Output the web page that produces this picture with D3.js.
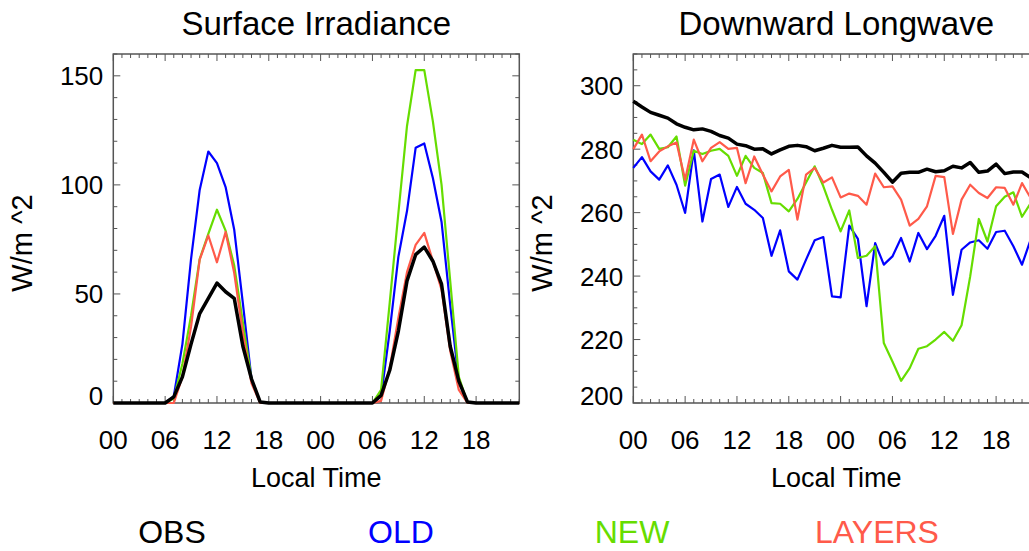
<!DOCTYPE html>
<html>
<head>
<meta charset="utf-8">
<script src="https://cdn.jsdelivr.net/npm/d3@7"></script>
<style>
  body { margin: 0; background: #fff; }
  svg { display: block; }
  text { font-family: "Liberation Sans", Arial, Helvetica, sans-serif; fill: #000; }
</style>
</head>
<body>
<svg class="plot" width="1029" height="551"></svg>
<script>
// hourly index over two days
var hours = [0,1,2,3,4,5,6,7,8,9,10,11,12,13,14,15,16,17,18,19,20,21,22,23,
             24,25,26,27,28,29,30,31,32,33,34,35,36,37,38,39,40,41,42,43,44,45,46,47]

// Surface Irradiance (W/m^2)
var obsSW = [0,0,0,0,0,0,0,2.8,12,27,41,48,55,51,48,26,11,0.5,
             0,0,0,0,0,0,0,0,0,0,0,0,0,3.5,15,33,56,68,71.5,65,54.5,26,10,0.5,0,0,0,0,0,0]
var oldSW = [0,0,0,0,0,0,0,3,27,66,97.7,115.3,110,99,79.4,45.7,11,0,
             0,0,0,0,0,0,0,0,0,0,0,0,0,3,33,67,88,117,119,103,83,45,10,0,0,0,0,0,0,0]
var newSW = [0,0,0,0,0,0,0,2,18,40,66,77.5,88.6,79,63,37,11,0,
             0,0,0,0,0,0,0,0,0,0,0,0,0,6,46,87,127,152.6,152.6,129,100,56,12,0,0,0,0,0,0,0]
var layersSW = [0,0,0,0,0,0,0,0,12,35,65.7,76.8,64.5,78.4,59.6,32,9,0,
             0,0,0,0,0,0,0,0,0,0,0,0,0,1,16,39,60,72.5,78,65,52,24,6,0,0,0,0,0,0,0]

// Downward Longwave (W/m^2)
var obsLW = [295.1,293.3,291.6,290.7,289.8,288.0,286.9,286.1,286.4,285.6,284.3,283.5,281.6,281.1,280.0,280.1,
             278.5,279.8,280.9,281.2,280.8,279.5,280.3,281.2,280.6,280.6,280.7,277.9,275.6,272.7,269.6,272.4,
             272.7,272.7,273.7,272.9,273.2,274.6,274.1,275.8,272.7,273.1,275.3,272.3,272.8,272.8,271,270]
var oldLW = [274.1,277.5,273.0,270.4,274.9,268.8,259.9,279.6,257.2,270.6,272.0,261.8,268.1,262.8,260.9,258.3,
             246.4,254.4,241.5,238.9,245.2,251.3,252.3,233.6,233.3,255.9,251.7,230.5,250.4,243.6,246.2,252.0,
             244.6,253.6,248.5,252.7,259.0,234.1,248.3,250.6,251.3,248.6,253.9,254.3,249.4,243.6,251.5,255]
var newLW = [283.0,281.6,284.6,280.1,280.6,284.0,268.5,279.5,278.5,279.5,280.1,277.9,271.6,277.9,274.1,272.5,
             263.0,262.8,260.4,264.3,269.5,274.6,268.3,260.9,254.1,260.7,245.7,246.4,249.4,218.9,213.1,207.0,
             211.0,217.1,217.9,220.0,222.4,219.6,224.5,239.9,258.0,250.9,262.0,265.0,266.4,258.7,263,265]
var layersLW = [280.0,284.6,276.2,279.3,280.9,282.1,270.4,283.0,276.2,280.4,282.2,280.1,280.4,269.3,277.7,272.0,
             266.7,271.4,273.5,257.8,272.0,274.1,269.5,271.1,264.8,266.0,265.3,262.5,272.3,268.0,268.3,264.1,
             255.9,258.0,262.0,271.6,271.2,253.3,264.1,268.8,266.2,264.6,268.0,267.8,262.5,269.3,264.6,266]

var seriesNames = ["OBS", "OLD", "NEW", "LAYERS"]
var seriesColors = ["#000000", "#0000ff", "#66dd00", "#ff5a4a"]
var seriesWidths = [3.5, 2.2, 2.2, 2.2]

var svg = d3.select("svg.plot")
var frameColor = "#555"

function drawPanel(opts) {
  var x = d3.scaleLinear().domain([0, 47]).range([opts.left, opts.left + 406])
  var y = d3.scaleLinear().domain(opts.yDomain).range([403, 54])
  var g = svg.append("g")

  // frame
  g.append("rect")
    .attr("x", x(0)).attr("y", y(opts.yDomain[1]))
    .attr("width", x(47) - x(0)).attr("height", y(opts.yDomain[0]) - y(opts.yDomain[1]))
    .attr("fill", "none").attr("stroke", frameColor).attr("stroke-width", 1.5)

  // x ticks (bottom + top), minor every hour, major every 6
  hours.forEach(h => {
    var len = (h % 6 == 0) ? 7 : 4
    g.append("line").attr("x1", x(h)).attr("x2", x(h)).attr("y1", y.range()[0]).attr("y2", y.range()[0] - len)
      .attr("stroke", frameColor).attr("stroke-width", 1)
    g.append("line").attr("x1", x(h)).attr("x2", x(h)).attr("y1", y.range()[1]).attr("y2", y.range()[1] + len)
      .attr("stroke", frameColor).attr("stroke-width", 1)
  })
  // x tick labels
  hours.filter(h => h % 6 == 0).forEach(h => {
    g.append("text")
      .attr("x", x(h)).attr("y", 449)
      .attr("text-anchor", "middle").attr("font-size", 26)
      .text(String(h % 24).padStart(2, "0"))
  })

  // y ticks
  opts.yMinor.forEach(v => {
    var len = opts.yMajor.includes(v) ? 7 : 4
    g.append("line").attr("x1", x(0)).attr("x2", x(0) + len).attr("y1", y(v)).attr("y2", y(v))
      .attr("stroke", frameColor).attr("stroke-width", 1)
    g.append("line").attr("x1", x(47)).attr("x2", x(47) - len).attr("y1", y(v)).attr("y2", y(v))
      .attr("stroke", frameColor).attr("stroke-width", 1)
  })
  opts.yMajor.forEach(v => {
    g.append("text")
      .attr("x", x(0) - 10).attr("y", Math.min(y(v), 395) + 9.5)
      .attr("text-anchor", "end").attr("font-size", 26)
      .text(v)
  })

  // lines
  var order = [1, 2, 3, 0]
  order.forEach(k => {
    var line = d3.line().x((d, i) => x(hours[i])).y(d => y(d))
    g.append("path")
      .attr("d", line(opts.series[k]))
      .attr("fill", "none")
      .attr("stroke", seriesColors[k])
      .attr("stroke-width", seriesWidths[k])
      .attr("stroke-linejoin", "round")
  })

  // titles
  g.append("text")
    .attr("x", opts.left + 203).attr("y", 35)
    .attr("text-anchor", "middle").attr("font-size", 33)
    .text(opts.title)
  g.append("text")
    .attr("x", opts.left + 203).attr("y", 487)
    .attr("text-anchor", "middle").attr("font-size", 27)
    .text("Local Time")
  g.append("text")
    .attr("transform", "translate(" + (opts.left - 81) + ",243) rotate(-90)")
    .attr("text-anchor", "middle").attr("font-size", 29)
    .text("W/m ^2")
}

drawPanel({
  left: 113.3,
  yDomain: [0, 160],
  yMajor: [0, 50, 100, 150],
  yMinor: [0, 10, 20, 30, 40, 50, 60, 70, 80, 90, 100, 110, 120, 130, 140, 150, 160],
  series: [obsSW, oldSW, newSW, layersSW],
  title: "Surface Irradiance"
})

drawPanel({
  left: 633.3,
  yDomain: [200, 310],
  yMajor: [200, 220, 240, 260, 280, 300],
  yMinor: [200, 205, 210, 215, 220, 225, 230, 235, 240, 245, 250, 255, 260, 265, 270, 275, 280, 285, 290, 295, 300, 305, 310],
  series: [obsLW, oldLW, newLW, layersLW],
  title: "Downward Longwave"
})

// legend
var legendX = [172, 401, 632, 877]
seriesNames.forEach((name, k) => {
  svg.append("text")
    .attr("x", legendX[k]).attr("y", 543)
    .attr("text-anchor", "middle").attr("font-size", 32)
    .style("fill", seriesColors[k])
    .text(name)
})
</script>
</body>
</html>
